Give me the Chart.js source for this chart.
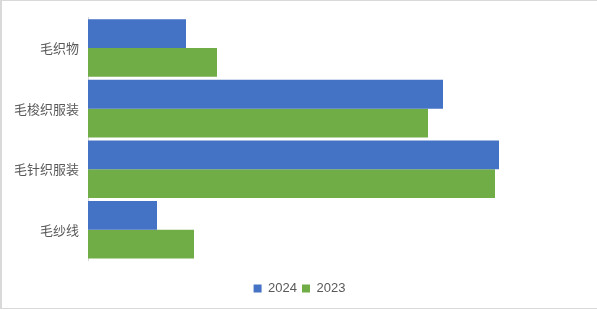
<!DOCTYPE html>
<html>
<head>
<meta charset="utf-8">
<script src="https://cdn.jsdelivr.net/npm/chart.js@4/dist/chart.umd.min.js"></script>
<style>
  html, body { margin: 0; padding: 0; background: #fff; }
  #wrap { position: relative; width: 595px; height: 307px; border: 1px solid #d9d9d9; border-left-width: 2px; }
</style>
</head>
<body>
<div id="wrap"><canvas id="chart"></canvas></div>
<script>
// categories and series values (arbitrary units)
const categories = ['毛织物', '毛梭织服装', '毛针织服装', '毛纱线'];
const values2024 = [98, 355, 411, 69];
const values2023 = [129, 340, 407, 106];
const seriesNames = ['2024', '2023'];

const ctx = document.getElementById('chart');
new Chart(ctx, {
    type: 'bar',
    data: {
        labels: categories,
        datasets: [
            { label: seriesNames[0], data: values2024, backgroundColor: '#4472C4' },
            { label: seriesNames[1], data: values2023, backgroundColor: '#70AD47' }
        ]
    },
    options: {
        indexAxis: 'y',
        responsive: true,
        maintainAspectRatio: false,
        animation: false,
        layout: { padding: { top: 16, right: 0, bottom: 3, left: 0 } },
        datasets: { bar: { categoryPercentage: 0.95, barPercentage: 1.0 } },
        scales: {
            x: {
                min: 0,
                max: 509,
                display: true,
                grid: { display: false },
                border: { display: false },
                ticks: { display: false },
                afterFit: s => { s.height = 17; }
            },
            y: {
                grid: { display: false, drawTicks: false },
                border: { display: true, color: '#d9d9d9', width: 1 },
                ticks: {
                    color: '#595959',
                    padding: 9,
                    font: { family: '"Noto Sans CJK SC", "Noto Sans", sans-serif', size: 13 }
                },
                afterFit: s => { s.width = 86; }
            }
        },
        plugins: {
            legend: {
                position: 'bottom',
                labels: {
                    boxWidth: 8,
                    boxHeight: 8,
                    padding: 5,
                    color: '#595959',
                    font: { family: '"Liberation Sans", Arial, sans-serif', size: 13 }
                }
            },
            tooltip: { enabled: false }
        }
    }
});
</script>
</body>
</html>
